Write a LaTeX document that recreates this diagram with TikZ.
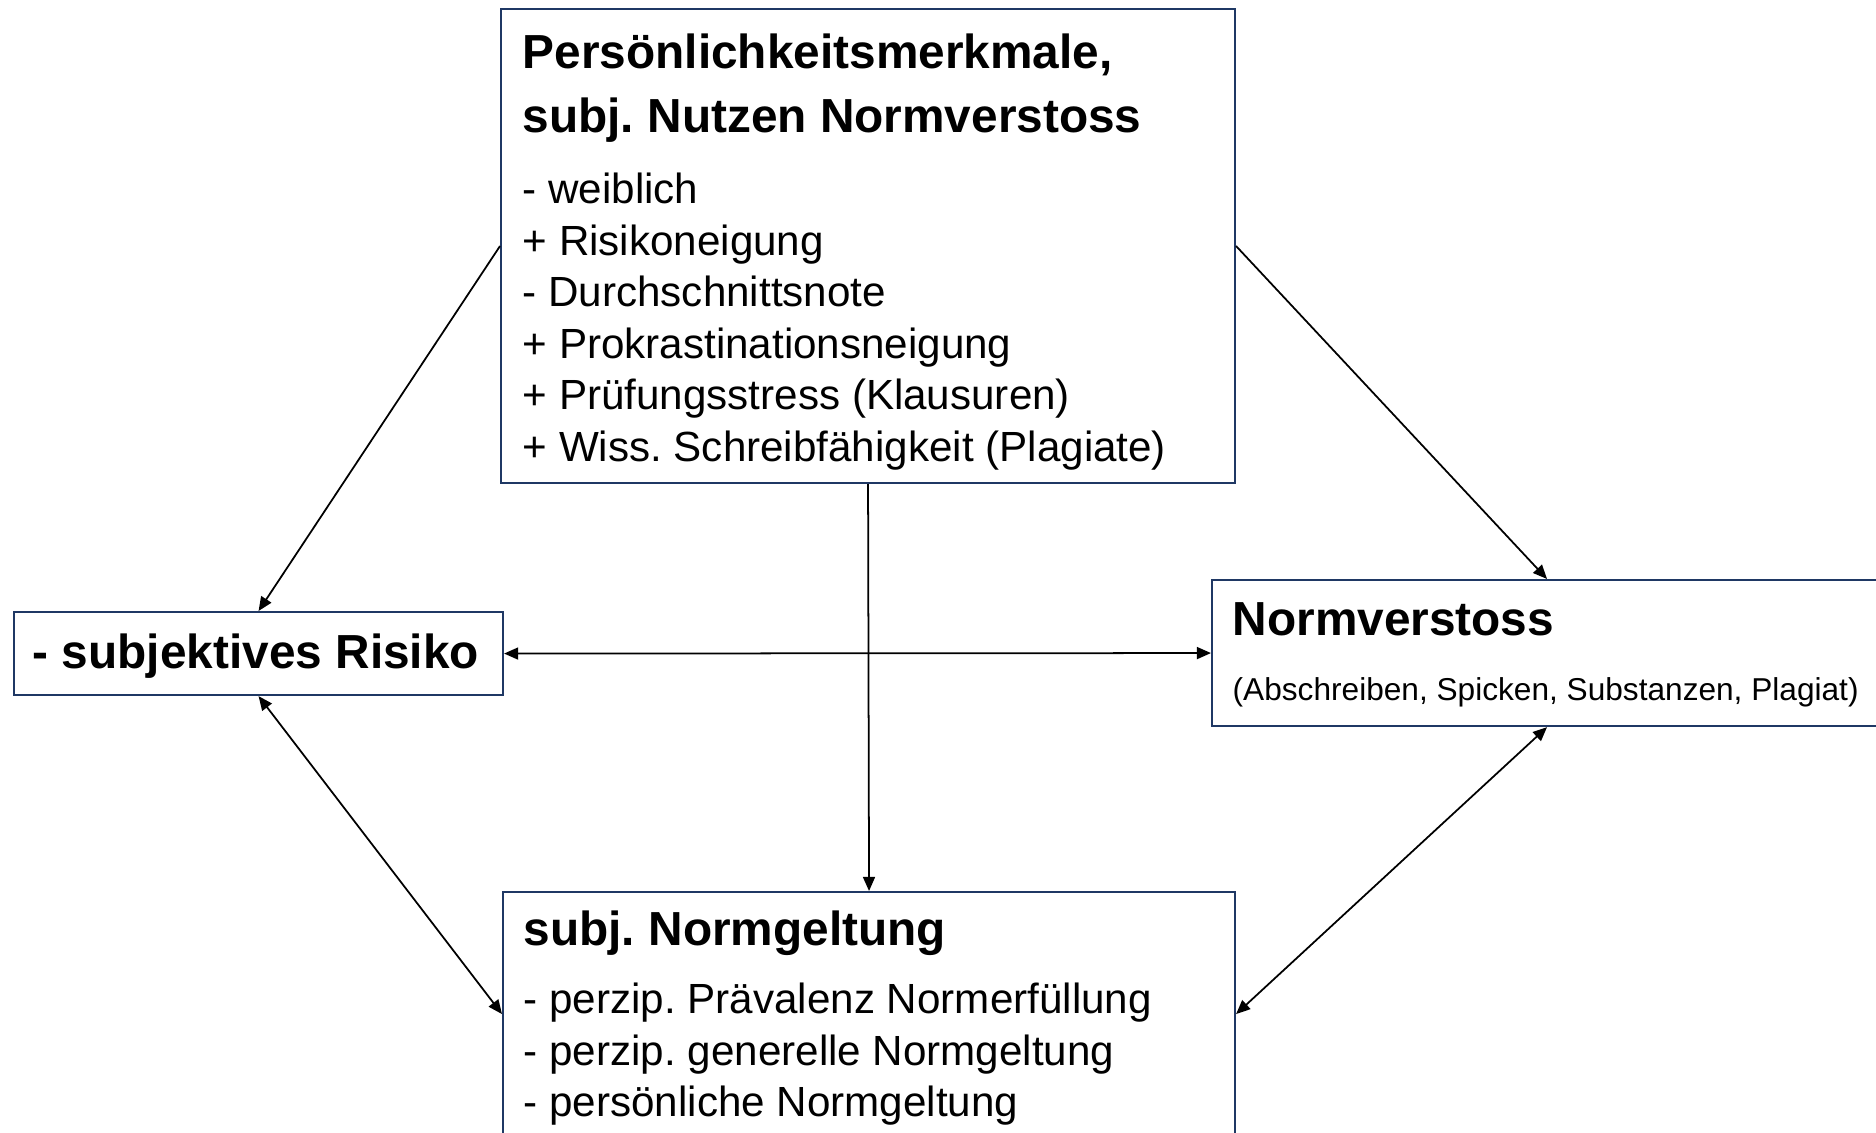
\documentclass[tikz,border=0pt]{standalone}
\usepackage{fontspec}
\setmainfont{Liberation Sans}
\frenchspacing
\usetikzlibrary{arrows.meta}

\definecolor{boxblue}{RGB}{31,56,100}

\tikzset{
 box/.style={draw=boxblue, line width=0.6pt, anchor=north west, inner sep=0pt},
 head/.style={anchor=base west, inner sep=0pt, font=\fontsize{13.6}{16}\selectfont\bfseries},
 item/.style={anchor=base west, inner sep=0pt, font=\fontsize{12}{14}\selectfont},
 note/.style={anchor=base west, inner sep=0pt, font=\fontsize{9}{11}\selectfont},
 pfeil/.style={-{Triangle[length=4pt,width=3.4pt]}, line width=0.5pt},
 doppelpfeil/.style={{Triangle[length=4pt,width=3.4pt]}-{Triangle[length=4pt,width=3.4pt]}, line width=0.5pt},
}

\begin{document}
\begin{tikzpicture}[x=0.1mm, y=-0.1mm]
 \useasboundingbox (0,0) rectangle (1876,1133);

 \node[box, minimum width=73.4mm, minimum height=47.4mm] (pers) at (500,8) {};
 \node[box, minimum width=48.9mm, minimum height=8.3mm] (risiko) at (13,611) {};
 \node[box, minimum width=67mm, minimum height=14.6mm] (verstoss) at (1211,579) {};
 \node[box, minimum width=73.2mm, minimum height=24.4mm] (geltung) at (502,891) {};

 % Persoenlichkeitsmerkmale
 \node[head] (p1) at (522,68) {Persönlichkeitsmerkmale,};
 \node[head] (p2) at (522,132) {subj. Nutzen Normverstoss};
 \node[item] (p3) at (522,203) {- weiblich};
 \node[item] (p4) at (522,255) {+ Risikoneigung};
 \node[item] (p5) at (522,306) {- Durchschnittsnote};
 \node[item] (p6) at (522,358) {+ Prokrastinationsneigung};
 \node[item] (p7) at (522,409) {+ Prüfungsstress (Klausuren)};
 \node[item] (p8) at (522,461) {+ Wiss. Schreibfähigkeit (Plagiate)};

 % Risiko
 \node[head] (r1) at (32,668) {- subjektives Risiko};

 % Normverstoss
 \node[head] (v1) at (1232,635) {Normverstoss};
 \node[note] (v2) at (1232,700) {(Abschreiben, Spicken, Substanzen, Plagiat)};

 % Normgeltung
 \node[head] (g1) at (523,945) {subj. Normgeltung};
 \node[item] (g2) at (523,1013) {- perzip. Prävalenz Normerfüllung};
 \node[item] (g3) at (523,1065) {- perzip. generelle Normgeltung};
 \node[item] (g4) at (523,1116) {- persönliche Normgeltung};

 \draw [pfeil] (pers.west) -- (risiko.north);
 \draw [pfeil] (pers.east) -- (verstoss.north);
 \draw [pfeil] (pers.south) -- (geltung.north);

 \draw [doppelpfeil] (risiko.east) -- (verstoss.west);
 \draw [doppelpfeil] (risiko.south) -- (geltung.west);
 \draw [doppelpfeil] (verstoss.south) -- (geltung.east);

\end{tikzpicture}
\end{document}
